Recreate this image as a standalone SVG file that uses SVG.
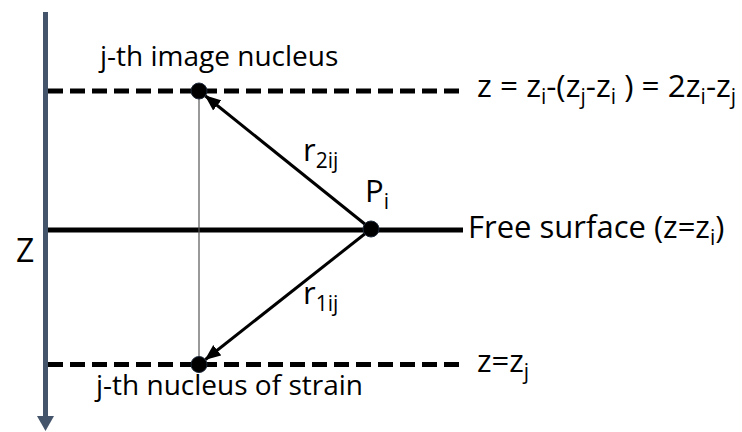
<svg xmlns="http://www.w3.org/2000/svg" width="742" height="432" viewBox="0 0 742 432">
<defs>
<style>
text{font-family:"Open Sans","Liberation Sans",sans-serif;fill:#000}
.lbl{font-size:28px}
.big{font-size:31px}
.eq{font-size:31.5px}
.sub{font-size:21px}
.dash{stroke:#000;stroke-width:5;stroke-dasharray:15 7;fill:none}
.solid{stroke:#000;stroke-width:5;fill:none}
.arr{stroke:#000;stroke-width:3;fill:none;marker-end:url(#ah)}
.dot{fill:#000;stroke:#1f2a3a;stroke-width:1}
</style>
<marker id="ah" markerUnits="userSpaceOnUse" markerWidth="18" markerHeight="14" refX="15" refY="7" orient="auto">
<path d="M0,0.5 L16,7 L0,13.5 Z" fill="#000"/>
</marker>
</defs>
<g id="axis">
<line x1="45.5" y1="12" x2="45.5" y2="418" stroke="#44546A" stroke-width="5"/>
<polygon points="37,416 54,416 45.5,431" fill="#44546A"/>
<text x="16" y="262" style="font-size:32px">Z</text>
</g>
<g id="lines">
<line class="dash" x1="48" y1="91" x2="466" y2="91"/>
<line class="solid" x1="48" y1="230" x2="463" y2="230"/>
<line class="dash" x1="48" y1="364.5" x2="466" y2="364.5"/>
</g>
<g id="connectors">
<line x1="199" y1="91" x2="199" y2="364" stroke="#555" stroke-width="1.2"/>
<line class="arr" x1="371" y1="229" x2="205.5" y2="96"/>
<line class="arr" x1="371" y1="229" x2="205.5" y2="359.5"/>
</g>
<g id="image-nucleus">
<circle class="dot" cx="199" cy="91" r="8"/>
<text class="lbl" x="100" y="66">j-th image nucleus</text>
</g>
<g id="point-pi">
<circle class="dot" cx="371" cy="229" r="8"/>
<text class="big" x="365" y="202">P<tspan class="sub" dy="7">i</tspan></text>
</g>
<g id="nucleus">
<circle class="dot" cx="199" cy="364.5" r="8"/>
<text class="lbl" x="96" y="395">j-th nucleus of strain</text>
</g>
<g id="labels">
<text class="big" x="303" y="161">r<tspan class="sub" dy="7">2ij</tspan></text>
<text class="big" x="303" y="304">r<tspan class="sub" dy="7">1ij</tspan></text>
<text class="eq" x="477" y="97">z = z<tspan class="sub" dy="7">i</tspan><tspan dy="-7">-(z</tspan><tspan class="sub" dy="7">j</tspan><tspan dy="-7">-z</tspan><tspan class="sub" dy="7">i</tspan><tspan dy="-7"> ) = 2z</tspan><tspan class="sub" dy="7">i</tspan><tspan dy="-7">-z</tspan><tspan class="sub" dy="7">j</tspan></text>
<text class="big" x="468" y="238">Free surface (z=z<tspan class="sub" dy="7">i</tspan><tspan dy="-7">)</tspan></text>
<text class="big" x="477" y="372">z=z<tspan class="sub" dy="7">j</tspan></text>
</g>
</svg>
